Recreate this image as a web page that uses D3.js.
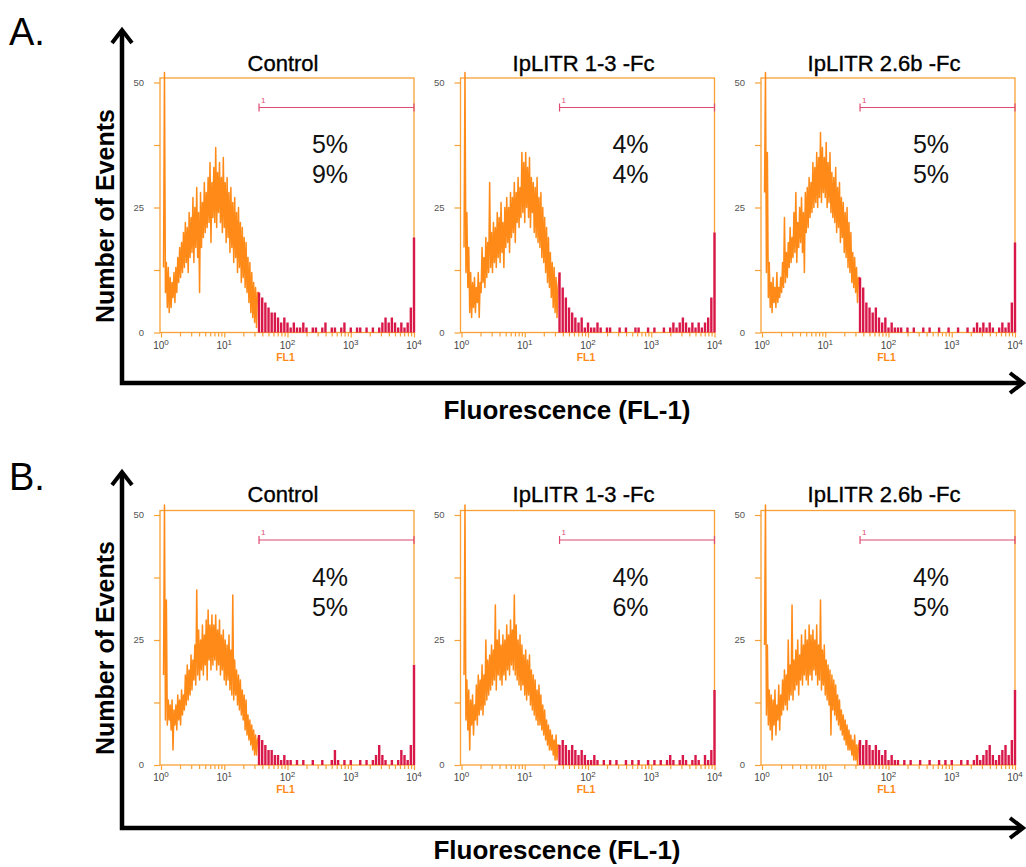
<!DOCTYPE html>
<html>
<head>
<meta charset="utf-8">
<script src="https://cdn.jsdelivr.net/npm/d3@7"></script>
<style>
    body { margin: 0; background: #fff; }
    svg { display: block; }
    text { font-family: "Liberation Sans", Arial, Helvetica, sans-serif; }
</style>
</head>
<body>
<svg id="chart" width="1026" height="867"></svg>
<script>
// ---- data ----
const panelTitles = ["Control", "IpLITR 1-3 -Fc", "IpLITR 2.6b -Fc"];
const percentsA = [["5%", "9%"], ["4%", "4%"], ["5%", "5%"]];
const percentsB = [["4%", "5%"], ["4%", "6%"], ["4%", "5%"]];
const decadeTicks = [1, 10, 100, 1000, 10000];
const decadeExps = ["0", "1", "2", "3", "4"];
const countTicks = [0, 25, 50];
const countMinorTicks = [12.5, 37.5];
const gateRange = [1.55, 4.0];   // log10 FL1
const gateLevel = 45;            // events

// channel positions (log10 FL1) of the orange (below gate) bins
const orangeExp = [0.04,0.07,0.10,0.13,0.16,0.19,0.22,0.25,0.28,0.31,0.34,0.37,0.40,0.43,0.46,0.49,0.52,0.55,0.58,0.61,
    0.64,0.67,0.70,0.73,0.76,0.79,0.82,0.85,0.88,0.91,0.94,0.97,1.00,1.03,1.06,1.09,1.12,1.15,1.18,1.21,
    1.24,1.27,1.30,1.33,1.36,1.39,1.42,1.45,1.48,1.51];
// channel positions of the red (inside gate) bins
const redExp = [1.55,1.60,1.65,1.70,1.75,1.80,1.85,1.90,1.95,2.00,2.05,2.10,2.15,2.20,2.25,2.30,2.35,2.40,2.45,2.50,
    2.55,2.60,2.65,2.70,2.75,2.80,2.85,2.90,2.95,3.00,3.05,3.10,3.15,3.20,3.25,3.30,3.35,3.40,3.45,3.50,
    3.55,3.60,3.65,3.70,3.75,3.80,3.85,3.90,3.95,4.00];

// A. Control
const aControlLow  = [13,8,5,4,5,7,6,8,10,11,12,13,14,12,15,16,14,17,15,8,17,19,20,21,22,18,23,22,21,24,22,20,21,18,19,16,17,14,15,12,13,10,11,9,8,6,4,3,2,1];
const aControlHigh = [52,14,13,11,10,12,13,15,17,18,20,22,21,24,23,27,25,29,24,28,26,30,28,31,34,30,33,37,32,34,31,35,30,31,28,29,26,27,24,25,22,21,19,18,15,14,12,10,9,8];
const aControlGate = [8,7,6,5,4,4,3,2,3,2,1,2,1,1,2,1,0,1,1,0,1,2,0,1,1,0,1,2,0,1,0,1,1,0,1,0,1,0,1,2,3,2,3,2,1,2,1,2,5,19];
// A. IpLITR 1-3 -Fc
const aL13Low  = [17,12,9,4,3,5,4,6,3,8,10,9,11,12,13,12,14,13,15,14,16,13,17,18,16,19,20,18,22,21,23,24,22,25,23,21,24,20,19,18,17,15,14,12,10,9,7,5,4,3];
const aL13High = [52,24,17,12,10,11,9,12,10,17,15,19,18,30,20,22,21,24,23,26,22,25,27,25,28,27,30,28,31,29,36,34,36,33,35,31,30,29,31,27,28,25,23,21,19,16,14,13,11,9];
const aL13Gate = [12,9,7,5,4,3,2,3,1,2,1,1,2,1,0,1,1,0,0,1,0,1,0,0,1,1,0,0,1,0,1,0,0,1,0,1,2,1,2,3,2,1,2,1,2,1,2,3,7,20];
// A. IpLITR 2.6b -Fc
const aL26Low  = [28,12,7,5,4,6,5,6,7,8,9,10,11,13,14,15,16,14,17,18,16,12,20,21,23,24,25,26,25,27,26,28,27,25,26,24,23,22,20,21,18,19,16,15,13,12,10,9,8,6];
const aL26High = [52,36,14,10,11,9,12,9,11,14,23,16,18,21,19,24,28,22,25,27,24,28,29,31,30,34,33,36,35,40,37,35,38,34,36,32,31,33,29,30,27,26,24,25,22,20,16,15,13,11];
const aL26Gate = [11,9,6,5,4,5,3,2,3,1,2,1,1,1,0,1,0,1,0,0,1,0,1,0,0,1,0,0,1,0,0,1,0,0,1,0,1,2,1,2,1,2,1,0,1,2,1,2,6,18];

// B. Control
const bControlLow  = [18,9,8,9,7,3,8,7,9,8,10,11,12,13,14,15,17,16,18,17,19,18,20,17,21,19,20,21,19,20,18,19,17,16,17,15,14,13,14,12,11,10,9,7,6,5,4,3,2,2];
const bControlHigh = [52,33,13,12,13,11,12,14,13,15,14,18,20,19,22,21,24,35,27,25,28,26,29,31,28,30,28,30,27,29,26,27,25,24,26,23,34,21,19,18,17,15,14,13,10,9,8,7,6,5];
const bControlGate = [6,5,4,3,3,2,2,1,2,1,1,0,1,0,1,0,0,1,0,0,1,0,0,1,3,1,0,1,0,1,0,0,1,0,1,0,1,2,4,2,1,0,1,0,1,3,2,1,4,20];
// B. IpLITR 1-3 -Fc
const bL13Low  = [18,9,7,3,8,6,9,8,10,11,10,12,13,14,15,16,17,15,18,17,16,18,17,19,18,20,19,18,17,16,15,16,14,13,14,12,11,10,9,8,8,7,6,5,4,3,3,2,1,1];
const bL13High = [52,17,15,13,14,12,16,18,17,20,18,25,21,22,24,23,32,25,27,24,26,25,28,26,29,27,34,28,25,26,24,22,23,21,22,19,18,17,15,16,14,12,11,9,8,7,6,5,6,4];
const bL13Gate = [4,5,4,3,4,3,2,3,2,1,1,2,1,0,1,0,1,0,1,0,0,1,0,1,0,1,0,0,1,0,1,0,1,0,1,2,1,0,1,2,1,0,1,2,1,0,2,1,3,15];
// B. IpLITR 2.6b -Fc
const bL26Low  = [24,10,8,7,5,8,6,9,7,10,11,12,11,13,14,13,15,16,14,17,16,18,17,16,18,17,19,18,16,17,15,16,14,13,12,6,11,10,9,8,7,6,5,4,3,3,2,1,1,0];
const bL26High = [52,24,15,14,13,15,12,16,14,17,19,18,25,20,32,21,23,25,22,26,24,27,25,28,26,27,25,28,24,33,23,24,21,20,19,18,17,16,14,13,11,10,9,8,7,6,5,6,4,4];
const bL26Gate = [5,4,5,4,3,4,3,2,3,1,2,1,1,0,1,0,1,0,0,1,0,0,1,0,0,1,0,1,0,1,0,0,1,0,1,0,1,2,1,2,3,4,2,1,2,3,4,2,5,15];

const rowsData = [
    {letter: "A.", percents: percentsA, low: [aControlLow, aL13Low, aL26Low], high: [aControlHigh, aL13High, aL26High], gate: [aControlGate, aL13Gate, aL26Gate]},
    {letter: "B.", percents: percentsB, low: [bControlLow, bL13Low, bL26Low], high: [bControlHigh, bL13High, bL26High], gate: [bControlGate, bL13Gate, bL26Gate]}
];

// ---- layout ----
const rowLayout = [
    {top: 82.5, axisY: 383, tipY: 29, letterY: 45, titleY: 71, yLabelCY: 216, xLabelCX: 567, xLabelY: 419},
    {top: 515, axisY: 828, tipY: 471, letterY: 490, titleY: 502, yLabelCY: 648, xLabelCX: 557, xLabelY: 859}
];
const colX = [161, 461.5, 762];
const plotW = 253, plotH = 250;
const frameColor = "#f7a136", orange = "#ff8a18", gateRed = "#d9184a", gateLine = "#de4a72";

const svg = d3.select("#chart");
const x = d3.scaleLog().domain([1, 10000]).range([0, plotW]);
const y = d3.scaleLinear().domain([0, 50]).range([plotH, 0]);

const minorTicks = [];
decadeTicks.slice(0, -1).forEach(d => d3.range(2, 10).forEach(k => minorTicks.push(d * k)));

const fx = e => x(Math.pow(10, e));
const zigzag = d3.line().x(d => fx(d[0])).y(d => y(d[1]));

function drawPanel(g, low, high, gate, pct, title, titleY, top) {
    // title
    g.append("text").attr("x", 122).attr("y", titleY - top).attr("text-anchor", "middle")
        .style("font-size", "22px").style("fill", "#000").style("stroke", "#000").style("stroke-width", "0.35px")
        .text(title);

    // frame
    g.append("rect").attr("x", -1).attr("y", -4.5).attr("width", plotW + 1).attr("height", plotH + 4.5)
        .attr("fill", "none").attr("stroke", frameColor).attr("stroke-width", 1.3);

    // x ticks
    const xMajor = g.append("g").attr("transform", `translate(0,${plotH})`)
        .call(d3.axisBottom(x).tickValues(decadeTicks).tickSize(5).tickFormat(""));
    const xMinor = g.append("g").attr("transform", `translate(0,${plotH})`)
        .call(d3.axisBottom(x).tickValues(minorTicks).tickSize(4).tickFormat(""));
    [xMajor, xMinor].forEach(a => {
        a.select(".domain").remove();
        a.selectAll("line").attr("stroke", frameColor).attr("stroke-width", 1.2);
    });
    const lab = g.append("g").selectAll("text").data(decadeTicks).join("text")
        .attr("x", d => x(d)).attr("y", plotH + 16).attr("text-anchor", "middle")
        .style("font-size", "10px").style("fill", "#444");
    lab.append("tspan").text("10");
    lab.append("tspan").attr("dy", -4).style("font-size", "8px").text((d, i) => decadeExps[i]);

    g.append("text").attr("x", plotW / 2 - 2).attr("y", plotH + 28).attr("text-anchor", "middle")
        .style("font-size", "10.5px").style("font-weight", "bold").style("fill", orange).text("FL1");

    // y ticks
    const yAx = g.append("g").attr("transform", "translate(-1,0)")
        .call(d3.axisLeft(y).tickValues(countTicks.concat(countMinorTicks)).tickSize(6).tickFormat(""));
    yAx.select(".domain").remove();
    yAx.selectAll("line").attr("stroke", frameColor).attr("stroke-width", 1.2);
    g.append("g").selectAll("text").data(countTicks).join("text")
        .attr("x", -17).attr("y", d => y(d)).attr("dy", "0.35em").attr("text-anchor", "end")
        .style("font-size", "9.5px").style("fill", "#555").text(d => d);

    // histogram below the gate: dense zigzag between the low and high counts of each bin
    const pts = [];
    orangeExp.forEach((e, i) => { pts.push([e, low[i]]); pts.push([e + 0.015, high[i]]); });
    pts.push([gateRange[0], gate[0]]);
    g.append("path").attr("d", zigzag(pts)).attr("fill", "none")
        .attr("stroke", orange).attr("stroke-width", 1.5).attr("stroke-linejoin", "round");

    // histogram inside the gate: one bar per bin
    const bars = redExp.map((e, i) => [e, gate[i]]).filter(d => d[1] > 0);
    g.append("path")
        .attr("d", bars.map(d => `M${fx(d[0])},${y(0)}V${y(d[1])}`).join(""))
        .attr("fill", "none").attr("stroke", gateRed).attr("stroke-width", 2.4);

    // gate marker
    const gx0 = fx(gateRange[0]), gx1 = fx(gateRange[1]), gy = y(gateLevel);
    g.append("line").attr("x1", gx0).attr("x2", gx1).attr("y1", gy).attr("y2", gy)
        .attr("stroke", gateLine).attr("stroke-width", 1.2);
    [gx0, gx1].forEach(gx => g.append("line").attr("x1", gx).attr("x2", gx).attr("y1", gy - 4).attr("y2", gy + 4)
        .attr("stroke", gateLine).attr("stroke-width", 1.2));
    g.append("text").attr("x", gx0 + 2).attr("y", gy - 5).style("font-size", "8px").style("fill", gateLine).text("1");

    // percentages
    g.selectAll("text.pct").data(pct).join("text").attr("class", "pct")
        .attr("x", 169).attr("y", (d, i) => 70.5 + i * 30).attr("text-anchor", "middle")
        .style("font-size", "25px").style("fill", "#111").text(d => d);
}

rowsData.forEach((row, r) => {
    const L = rowLayout[r];

    // row letter
    svg.append("text").attr("x", 9).attr("y", L.letterY).style("font-size", "38px").style("fill", "#000").text(row.letter);

    // big axes with arrows
    const ax = svg.append("g").attr("stroke", "#000").attr("fill", "none").attr("stroke-width", 4.5);
    ax.append("path").attr("d", `M122,${L.tipY + 2} V${L.axisY} H1022`).attr("stroke-linejoin", "miter");
    ax.append("path").attr("d", `M112,${L.tipY + 14} L122,${L.tipY + 1} L132,${L.tipY + 14}`).attr("stroke-width", 4);
    ax.append("path").attr("d", `M1010,${L.axisY - 10} L1023,${L.axisY} L1010,${L.axisY + 10}`).attr("stroke-width", 4);

    svg.append("text").attr("transform", `translate(114,${L.yLabelCY}) rotate(-90)`).attr("text-anchor", "middle")
        .style("font-size", "25px").style("font-weight", "bold").text("Number of Events");
    svg.append("text").attr("x", L.xLabelCX).attr("y", L.xLabelY).attr("text-anchor", "middle")
        .style("font-size", "26px").style("font-weight", "bold").text("Fluorescence (FL-1)");

    colX.forEach((cx, c) => {
        const g = svg.append("g").attr("transform", `translate(${cx},${L.top})`);
        drawPanel(g, row.low[c], row.high[c], row.gate[c], row.percents[c], panelTitles[c], L.titleY, L.top);
    });
});
</script>
</body>
</html>
